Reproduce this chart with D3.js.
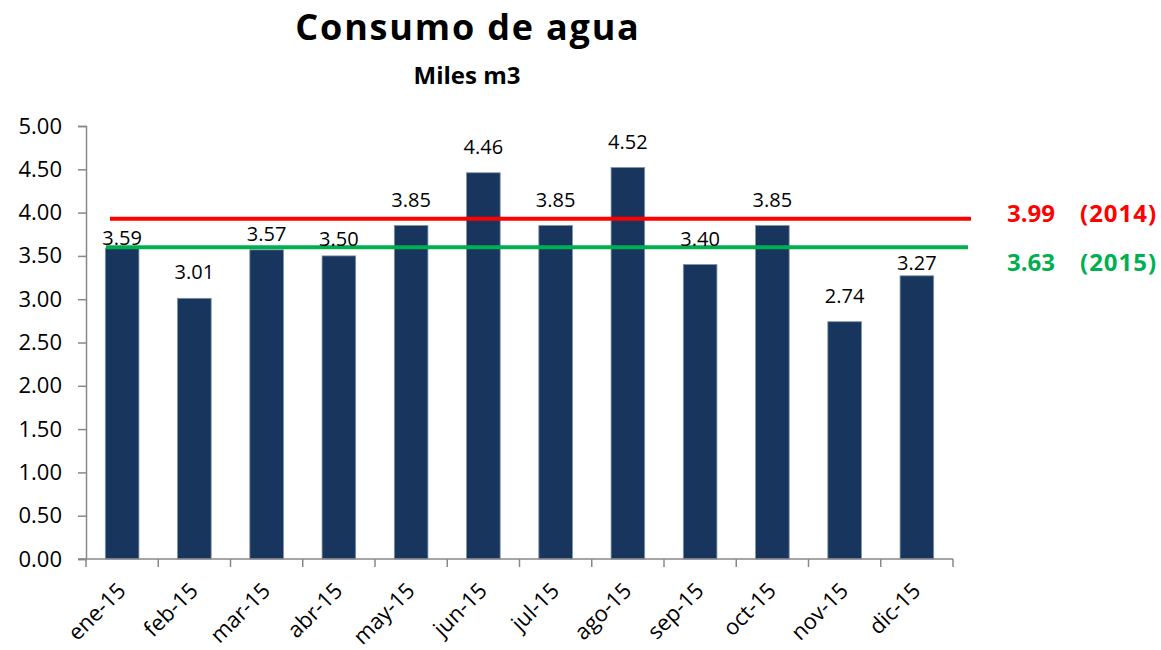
<!DOCTYPE html>
<html>
<head>
<meta charset="utf-8">
<script src="https://cdn.jsdelivr.net/npm/d3@7"></script>
<style>
  body { margin: 0; background: #ffffff; }
  text { font-family: "Open Sans", "Noto Sans", sans-serif; }
</style>
</head>
<body>
<svg id="chart"></svg>
<script>
// data
const months = ["ene-15", "feb-15", "mar-15", "abr-15", "may-15", "jun-15",
                "jul-15", "ago-15", "sep-15", "oct-15", "nov-15", "dic-15"];
const consumo = [3.59, 3.01, 3.57, 3.50, 3.85, 4.46, 3.85, 4.52, 3.40, 3.85, 2.74, 3.27];
const yTicks = [0, 0.5, 1, 1.5, 2, 2.5, 3, 3.5, 4, 4.5, 5];
// reference lines: where they sit on the chart, and what they say
const refValues = [3.93, 3.60];
const refLabels = ["3.99", "3.63"];
const refYears = ["(2014)", "(2015)"];
const refColors = ["#ff0000", "#00b050"];

let width = 1161;
let height = 650;
let margin = {"top": 126, "bottom": 91, "left": 86, "right": 208};

let svg = d3.select("#chart")
    .attr("width", width)
    .attr("height", height);

let x = d3.scaleBand()
    .domain(months)
    .range([margin.left, width - margin.right])
    .paddingInner(0.535)
    .paddingOuter(0.2675);

let y = d3.scaleLinear()
    .domain([0, 5])
    .range([height - margin.bottom, margin.top]);

const axisColor = "#888888";

// title
svg.append("text")
    .attr("x", 468).attr("y", 40)
    .attr("text-anchor", "middle")
    .style("font-size", "36px").style("font-weight", "bold")
    .style("letter-spacing", "1.8px")
    .text("Consumo de agua");
svg.append("text")
    .attr("x", 467).attr("y", 84)
    .attr("text-anchor", "middle")
    .style("font-size", "24px").style("font-weight", "bold")
    .text("Miles m3");

// y axis
let yAxis = svg.append("g")
    .attr("transform", `translate(${margin.left},0)`)
    .call(d3.axisLeft(y).tickValues(yTicks).tickSize(8).tickPadding(16)
        .tickFormat(d3.format(".2f")));
yAxis.selectAll("line, path").attr("stroke", axisColor).attr("stroke-width", 1.5);
yAxis.selectAll("text")
    .attr("fill", "#000").style("font-size", "22px").style("font-family", "'Open Sans', sans-serif");

// bars
svg.selectAll("rect.bar")
    .data(consumo)
    .enter().append("rect")
    .attr("class", "bar")
    .attr("x", (d, i) => x(months[i]))
    .attr("width", x.bandwidth())
    .attr("y", (d) => y(d))
    .attr("height", (d) => y(0) - y(d))
    .style("fill", "#18365d")
    .style("stroke", "#7d90aa")
    .style("stroke-width", 0.8);

// x axis (ticks at band edges like excel)
let xAxis = svg.append("g")
    .attr("transform", `translate(0,${y(0)})`);
xAxis.append("line")
    .attr("x1", margin.left - 8).attr("x2", width - margin.right)
    .attr("stroke", axisColor).attr("stroke-width", 1.5);
xAxis.selectAll("line.tick")
    .data(months.concat(["end"]))
    .enter().append("line")
    .attr("class", "tick")
    .attr("x1", (d, i) => margin.left + i * x.step())
    .attr("x2", (d, i) => margin.left + i * x.step())
    .attr("y1", 0).attr("y2", 8)
    .attr("stroke", axisColor).attr("stroke-width", 1.5);
xAxis.selectAll("text")
    .data(months)
    .enter().append("text")
    .attr("transform", (d) => `translate(${x(d) + x.bandwidth() / 2 + 5},33) rotate(-45)`)
    .attr("text-anchor", "end")
    .style("font-size", "22px")
    .text((d) => d);

// reference lines
const refStart = [24, 20];
const refEnd = [18, 15];
const refTextDy = [3, 24];
refValues.forEach(function(v, i) {
    svg.append("line")
        .attr("x1", margin.left + refStart[i])
        .attr("x2", width - margin.right + refEnd[i])
        .attr("y1", y(v)).attr("y2", y(v))
        .attr("stroke", refColors[i])
        .attr("stroke-width", 4);
    svg.append("text")
        .attr("x", 1007).attr("y", y(v) + refTextDy[i])
        .attr("fill", refColors[i])
        .style("font-size", "24px").style("font-weight", "bold")
        .text(refLabels[i]);
    svg.append("text")
        .attr("x", 1080).attr("y", y(v) + refTextDy[i])
        .attr("fill", refColors[i])
        .style("font-size", "24px").style("font-weight", "bold")
        .style("letter-spacing", "1px")
        .text(refYears[i]);
});

// data labels, some were hand-moved in the original
const labelGap = [3, 19, 9, 10, 19, 19, 19, 19, 19, 19, 19, 6];
svg.selectAll("text.value")
    .data(consumo)
    .enter().append("text")
    .attr("class", "value")
    .attr("x", (d, i) => x(months[i]) + x.bandwidth() / 2)
    .attr("y", (d, i) => y(d) - labelGap[i])
    .attr("text-anchor", "middle")
    .style("font-size", "20px")
    .text((d) => d3.format(".2f")(d));
</script>
</body>
</html>
